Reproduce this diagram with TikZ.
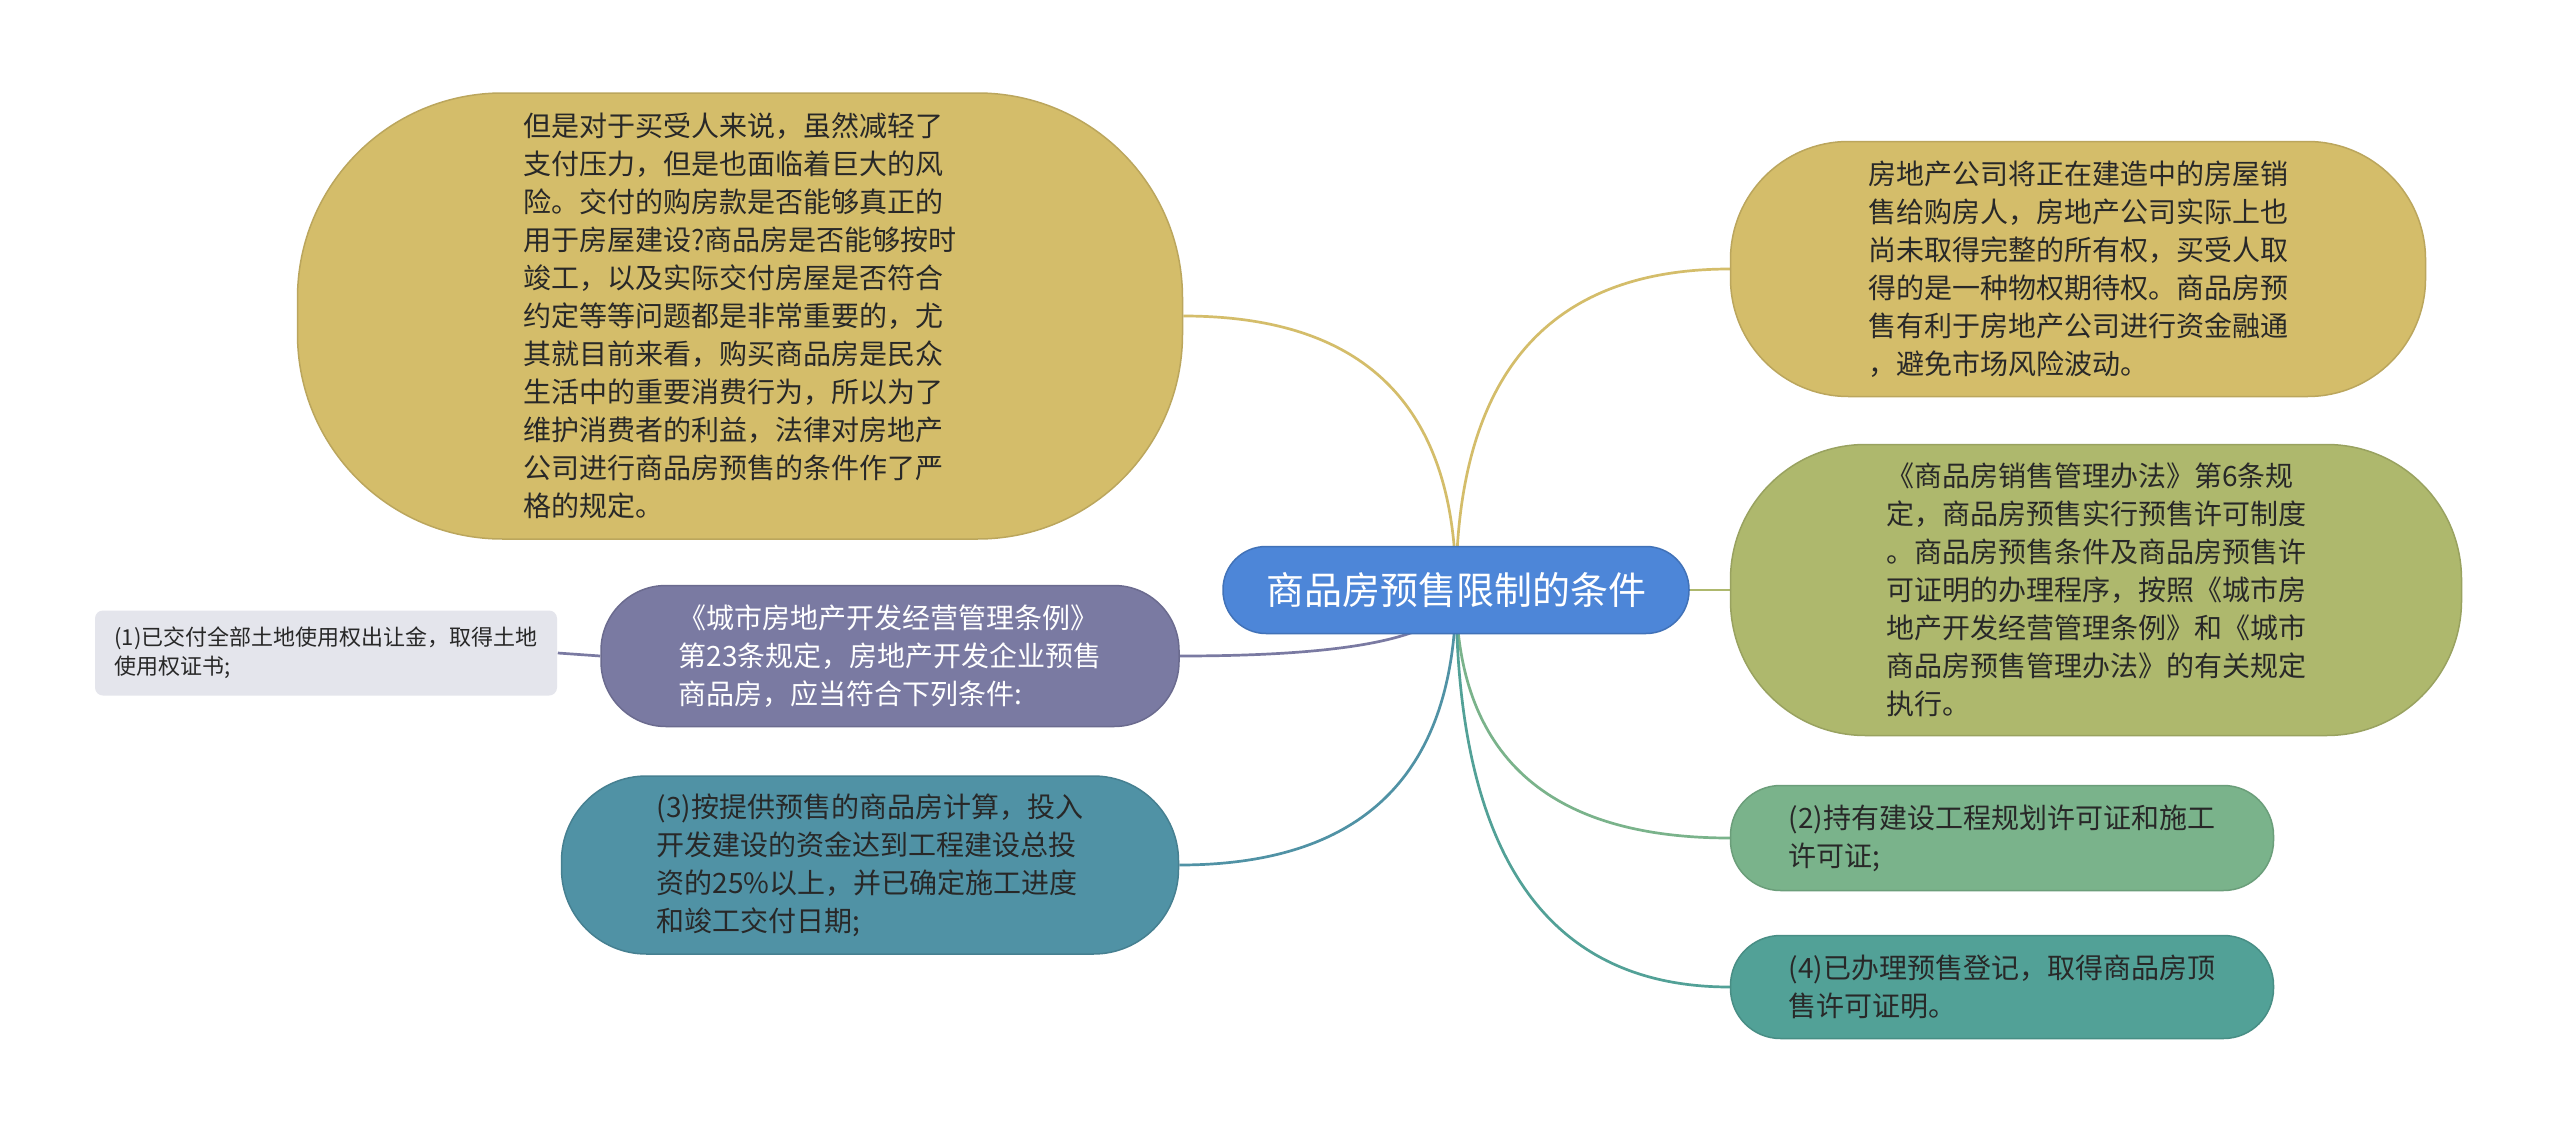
\documentclass[tikz,border=0pt]{standalone}
\usepackage{fontspec}
\newfontfamily\cjk{Noto Sans CJK SC}
\usetikzlibrary{calc}
\definecolor{cblue}{RGB}{77,134,216}
\definecolor{cyel}{RGB}{212,189,106}
\definecolor{colive}{RGB}{174,184,109}
\definecolor{cpurple}{RGB}{122,122,162}
\definecolor{cteal}{RGB}{80,146,165}
\definecolor{cgreen}{RGB}{122,179,139}
\definecolor{cteal4}{RGB}{82,161,151}
\definecolor{cleaf}{RGB}{228,229,236}
\definecolor{ctext}{RGB}{40,40,40}
\pgfdeclarelayer{bg}
\pgfsetlayers{bg,main}
\begin{document}
\begin{tikzpicture}[x=1pt,y=-1pt,
  box/.style={rounded corners=#1, line width=1.5pt, align=left, inner sep=0pt},
  bodytxt/.style={font=\cjk\fontsize{28}{38}\selectfont, text=ctext},
  link/.style={line width=2.7pt}]
\useasboundingbox (0,0) rectangle (2560,1135);

% nodes
\node[box=43pt, fill=cblue, draw=cblue!85!black, minimum width=466pt, minimum height=87pt,
  font=\cjk\fontsize{38}{44}\selectfont, text=white] (c) at (1456,590) {商品房预售限制的条件};

\node[box=205pt, fill=cyel, draw=cyel!88!black, minimum width=885pt, minimum height=446pt, bodytxt] (tl) at (740,316)
{但是对于买受人来说，虽然减轻了\\支付压力，但是也面临着巨大的风\\险。交付的购房款是否能够真正的\\用于房屋建设?商品房是否能够按时\\竣工，以及实际交付房屋是否符合\\约定等等问题都是非常重要的，尤\\其就目前来看，购买商品房是民众\\生活中的重要消费行为，所以为了\\维护消费者的利益，法律对房地产\\公司进行商品房预售的条件作了严\\格的规定。};

\node[box=118pt, fill=cyel, draw=cyel!88!black, minimum width=695pt, minimum height=255pt, bodytxt] (tr) at (2078,269)
{房地产公司将正在建造中的房屋销\\售给购房人，房地产公司实际上也\\尚未取得完整的所有权，买受人取\\得的是一种物权期待权。商品房预\\售有利于房地产公司进行资金融通\\，避免市场风险波动。};

\node[box=135pt, fill=colive, draw=colive!88!black, minimum width=731pt, minimum height=291pt, bodytxt] (ol) at (2096,590)
{《商品房销售管理办法》第6条规\\定，商品房预售实行预售许可制度\\。商品房预售条件及商品房预售许\\可证明的办理程序，按照《城市房\\地产开发经营管理条例》和《城市\\商品房预售管理办法》的有关规定\\执行。};

\node[box=50pt, fill=cgreen, draw=cgreen!88!black, minimum width=543pt, minimum height=105pt, bodytxt] (n2) at (2002,838)
{(2)持有建设工程规划许可证和施工\\许可证;};

\node[box=50pt, fill=cteal4, draw=cteal4!88!black, minimum width=543pt, minimum height=103pt, bodytxt] (n4) at (2002,987)
{(4)已办理预售登记，取得商品房顶\\售许可证明。};

\node[box=65pt, fill=cpurple, draw=cpurple!88!black, minimum width=578pt, minimum height=141pt, bodytxt, text=white] (pu) at (890,656)
{《城市房地产开发经营管理条例》\\第23条规定，房地产开发企业预售\\商品房，应当符合下列条件:};

\node[box=85pt, fill=cteal, draw=cteal!88!black, minimum width=617pt, minimum height=178pt, bodytxt] (n3) at (870,865)
{(3)按提供预售的商品房计算，投入\\开发建设的资金达到工程建设总投\\资的25\%以上，并已确定施工进度\\和竣工交付日期;};

\node[box=8pt, fill=cleaf, minimum width=462pt, minimum height=85pt,
  font=\cjk\fontsize{22}{29}\selectfont, text=ctext] (l1) at (326,653)
{(1)已交付全部土地使用权出让金，取得土地\\使用权证书;};

% connectors
\begin{pgfonlayer}{bg}
\fill[white] (0,0) rectangle (2560,1135);
\draw[link, cyel] (c.center) .. controls +(0,-183) and +(183,0) .. (tl.east);
\draw[link, cyel] (c.center) .. controls +(0,-214) and +(-183,0) .. (tr.west);
\draw[link, colive] (c.center) -- (ol.west);
\draw[link, cgreen] (c.center) .. controls +(0,165) and +(-183,0) .. (n2.west);
\draw[link, cteal4] (c.center) .. controls +(0,265) and +(-183,0) .. (n4.west);
\draw[link, cteal] (c.center) .. controls +(0,183) and +(185,0) .. (n3.east);
\draw[link, cpurple] (c.center) .. controls +(0,45) and +(183,0) .. (pu.east);
\draw[link, cpurple] (pu.west) -- (l1.east);
\end{pgfonlayer}
\end{tikzpicture}
\end{document}
